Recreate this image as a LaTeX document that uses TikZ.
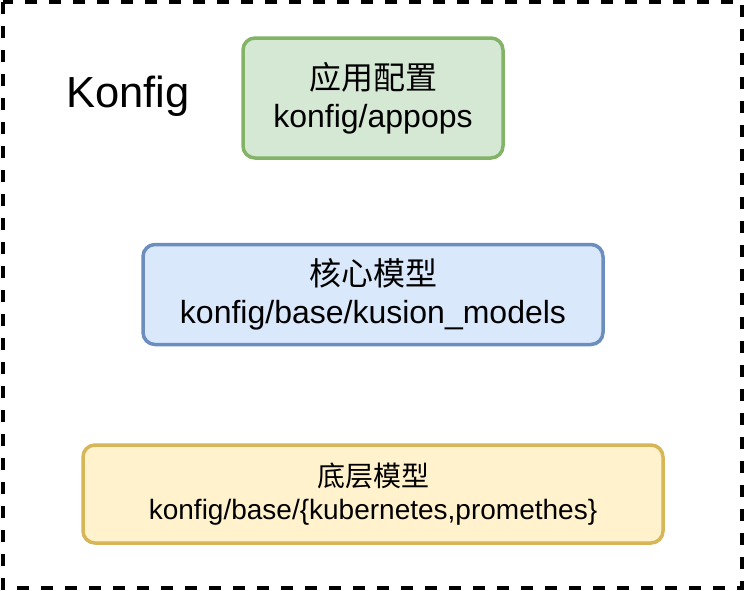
\documentclass[tikz,border=0pt]{standalone}
\usepackage{fontspec}
\setmainfont{Liberation Sans}
\newfontfamily\cjk{Noto Sans CJK SC}
\usetikzlibrary{positioning}
\definecolor{appfill}{HTML}{D5E8D4}
\definecolor{appedge}{HTML}{82B366}
\definecolor{corefill}{HTML}{DAE8FC}
\definecolor{coreedge}{HTML}{6C8EBF}
\definecolor{basefill}{HTML}{FFF2CC}
\definecolor{baseedge}{HTML}{D6B656}
\begin{document}
\begin{tikzpicture}[x=1pt, y=-1pt,
    layer/.style = {draw, line width=3.5pt, rounded corners=12pt, align=center, inner sep=0pt, font=\fontsize{32}{38}\selectfont},
    app/.style = {layer, draw=appedge, fill=appfill, minimum width=260pt, minimum height=120pt},
    core/.style = {layer, draw=coreedge, fill=corefill, minimum width=460pt, minimum height=100pt},
    base/.style = {layer, draw=baseedge, fill=basefill, minimum width=580pt, minimum height=98pt, font=\fontsize{28}{33}\selectfont}]
    \useasboundingbox (0,0) rectangle (744,590);
    \draw[line width=4pt, dash pattern=on 12pt off 12pt] (3,2) rectangle (742,588);
    \node[font=\fontsize{43.5}{50}\selectfont, anchor=base] (title) at (128,107) {Konfig};
    \node[app] (appops) at (373,98) {{\cjk 应用配置}\\konfig/appops};
    \node[core] (models) [below=83pt of appops] {{\cjk 核心模型}\\konfig/base/kusion\_models};
    \node[base] (lower) [below=97pt of models] {{\cjk 底层模型}\\konfig/base/\{kubernetes,promethes\}};
\end{tikzpicture}
\end{document}
